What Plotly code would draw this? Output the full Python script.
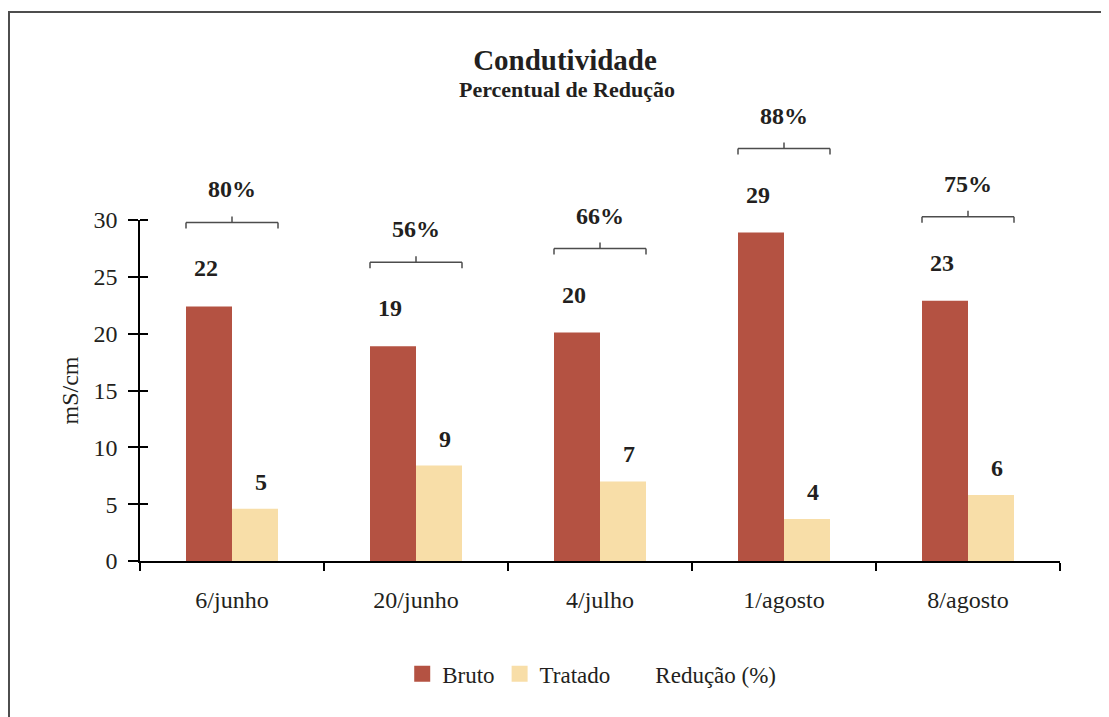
import plotly.graph_objects as go

# dados
datas = ['6/junho', '20/junho', '4/julho', '1/agosto', '8/agosto']
bruto = [22.4, 18.9, 20.1, 28.9, 22.9]
tratado = [4.6, 8.4, 7.0, 3.7, 5.8]
rotulo_bruto = ['22', '19', '20', '29', '23']
rotulo_tratado = ['5', '9', '7', '4', '6']
reducao = ['80%', '56%', '66%', '88%', '75%']

fonte = 'Liberation Serif'
cor_texto = '#231f20'
cor_bruto = '#b45242'
cor_tratado = '#f8dea8'
ymax = 30

fig = go.Figure()
fig.add_trace(go.Bar(x=datas, y=bruto, name='Bruto', legendgroup='bruto', showlegend=False,
                     marker=dict(color=cor_bruto, line=dict(width=0))))
fig.add_trace(go.Bar(x=datas, y=tratado, name='Tratado', legendgroup='tratado', showlegend=False,
                     marker=dict(color=cor_tratado, line=dict(width=0))))
# itens de legenda com quadrado maior
fig.add_trace(go.Scatter(x=datas, y=[None] * len(datas), name='Bruto', legendgroup='bruto',
                         mode='markers', marker=dict(symbol='square', size=16, color=cor_bruto)))
fig.add_trace(go.Scatter(x=datas, y=[None] * len(datas), name='Tratado', legendgroup='tratado',
                         mode='markers', marker=dict(symbol='square', size=16, color=cor_tratado)))
fig.add_trace(go.Scatter(x=datas, y=[None] * len(datas), name='Redução (%)',
                         mode='lines', line=dict(color='rgba(0,0,0,0)')))

fonte_negrito = dict(family=fonte, size=24, color=cor_texto, weight='bold')
anotacoes = []
formas = []
for i in range(len(datas)):
    yb = bruto[i] / ymax
    yt = tratado[i] / ymax
    anotacoes.append(dict(x=i, y=yb, xref='x', yref='paper', text=rotulo_bruto[i],
                          showarrow=False, xshift=-26, yshift=38,
                          xanchor='center', yanchor='middle', font=fonte_negrito))
    anotacoes.append(dict(x=i, y=yt, xref='x', yref='paper', text=rotulo_tratado[i],
                          showarrow=False, xshift=29, yshift=27,
                          xanchor='center', yanchor='middle', font=fonte_negrito))
    anotacoes.append(dict(x=i, y=yb, xref='x', yref='paper', text=reducao[i],
                          showarrow=False, yshift=117,
                          xanchor='center', yanchor='middle', font=fonte_negrito))
    # chave acima das barras
    linha = dict(color='#4d4d4d', width=1.5)
    base = dict(type='line', xref='x', yref='paper', ysizemode='pixel', yanchor=yb, line=linha)
    formas.append(dict(base, x0=i - 0.25, x1=i + 0.25, y0=84, y1=84))
    formas.append(dict(base, x0=i - 0.25, x1=i - 0.25, y0=84, y1=78))
    formas.append(dict(base, x0=i + 0.25, x1=i + 0.25, y0=84, y1=78))
    formas.append(dict(base, x0=i, x1=i, y0=84, y1=90))

anotacoes.append(dict(x=0.464, y=1.384, xref='paper', yref='paper',
                      text='Percentual de Redução', showarrow=False,
                      xanchor='center', yanchor='middle',
                      font=dict(family=fonte, size=22, color=cor_texto, weight='bold')))

# moldura (so aparecem o topo e a esquerda)
formas.append(dict(type='rect', xref='paper', yref='paper', x0=-0.1424, x1=1.08,
                   y0=-0.55, y1=1.61, line=dict(color='#4d4d4d', width=2), layer='below'))

fig.update_layout(
    width=1101, height=709,
    margin=dict(l=132, r=49, t=212, b=156),
    paper_bgcolor='white', plot_bgcolor='white',
    font=dict(family=fonte, size=24, color=cor_texto),
    barmode='group', bargap=0.5, bargroupgap=0,
    title=dict(text='Condutividade', x=0.5059, xanchor='center', xref='container',
               y=0.9267, yanchor='middle', yref='container',
               font=dict(family=fonte, size=29, color=cor_texto, weight='bold')),
    xaxis=dict(showline=True, linecolor='black', linewidth=1.5, ticks='outside',
               tickson='boundaries', ticklen=8, tickcolor='black', tickwidth=1.5,
               ticklabelstandoff=16, showgrid=False, zeroline=False,
               tickfont=dict(family=fonte, size=24, color=cor_texto)),
    yaxis=dict(range=[0, ymax], dtick=5, showline=True, linecolor='black', linewidth=1.5,
               ticks='outside', ticklen=10, tickcolor='black', tickwidth=1.5,
               ticklabelstandoff=6, showgrid=False, zeroline=False,
               minor=dict(ticks='inside', tick0=-0.01, dtick=5, ticklen=8,
                          tickcolor='black', tickwidth=1.5, showgrid=False),
               title=dict(text='mS/cm', standoff=8,
                          font=dict(family=fonte, size=24, color=cor_texto)),
               tickfont=dict(family=fonte, size=24, color=cor_texto)),
    legend=dict(orientation='h', x=0.491, xanchor='center', y=-0.331, yanchor='middle',
                font=dict(family=fonte, size=23, color=cor_texto), traceorder='normal'),
    annotations=anotacoes,
    shapes=formas,
)

fig.write_html("out.html")
